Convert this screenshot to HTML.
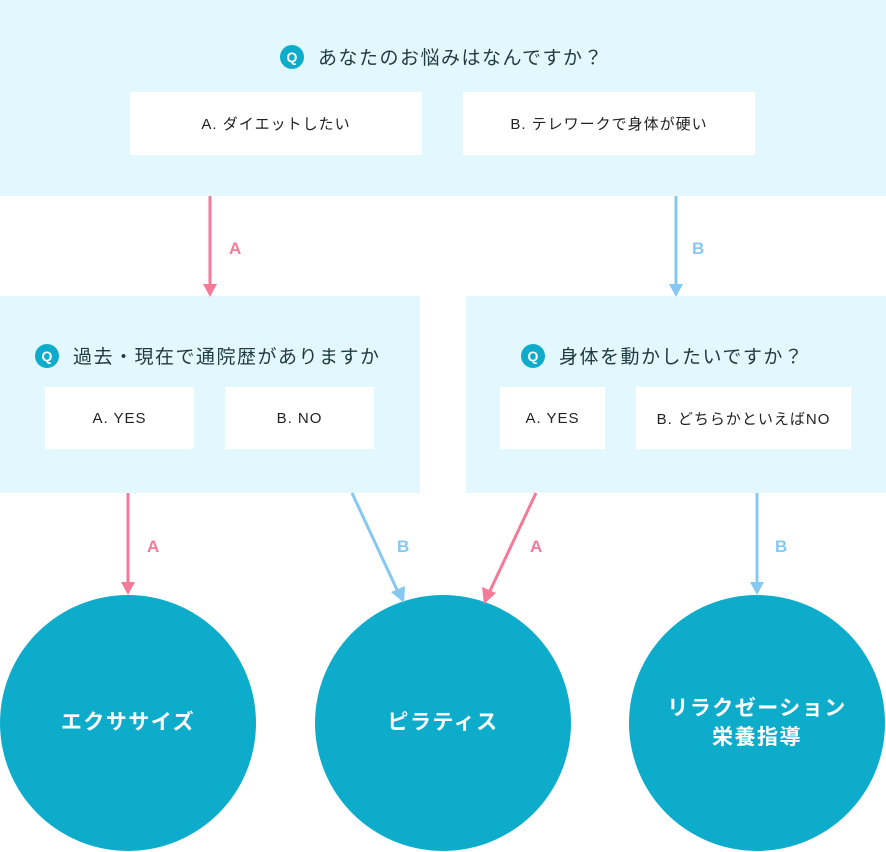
<!DOCTYPE html>
<html><head><meta charset="utf-8"><style>
body{margin:0;width:886px;height:852px;position:relative;background:#fff;font-family:"Liberation Sans","Noto Sans CJK JP",sans-serif;overflow:hidden}
.p{position:absolute;background:#e3f8fd}
.w{position:absolute;background:#fff;display:flex;align-items:center;justify-content:center;font-size:15px;color:#222;letter-spacing:1px}
.q{position:absolute;font-size:19px;color:#1f3a40;display:flex;align-items:center;letter-spacing:1.5px;white-space:nowrap}
.q b{display:inline-block;width:24px;height:24px;border-radius:50%;background:#0eaccb;color:#fff;font-size:14px;text-align:center;line-height:24px;margin-right:14px;letter-spacing:0}
.c{position:absolute;width:256px;height:256px;border-radius:50%;background:#0eaccb;color:#fff;font-weight:bold;font-size:21px;display:flex;align-items:center;justify-content:center;text-align:center;line-height:1.4;letter-spacing:1.5px}
</style></head><body>
<div class="p" style="left:0;top:0;width:886px;height:196px"></div>
<div class="p" style="left:0;top:296px;width:420px;height:197px"></div>
<div class="p" style="left:466px;top:296px;width:420px;height:197px"></div>
<div class="q" style="left:280px;top:43px"><b>Q</b>あなたのお悩みはなんですか？</div>
<div class="w" style="left:130px;top:92px;width:292px;height:63px">A. ダイエットしたい</div>
<div class="w" style="left:463px;top:92px;width:292px;height:63px">B. テレワークで身体が硬い</div>
<div class="q" style="left:35px;top:342px"><b>Q</b>過去・現在で通院歴がありますか</div>
<div class="w" style="left:45px;top:387px;width:149px;height:62px">A. YES</div>
<div class="w" style="left:225px;top:387px;width:149px;height:62px">B. NO</div>
<div class="q" style="left:521px;top:342px"><b>Q</b>身体を動かしたいですか？</div>
<div class="w" style="left:500px;top:387px;width:105px;height:62px">A. YES</div>
<div class="w" style="left:636px;top:387px;width:215px;height:62px">B. どちらかといえばNO</div>
<div class="c" style="left:0;top:595px">エクササイズ</div>
<div class="c" style="left:315px;top:595px">ピラティス</div>
<div class="c" style="left:629px;top:595px">リラクゼーション<br>栄養指導</div>
<svg style="position:absolute;left:0;top:0" width="886" height="852">
<g stroke-width="3" fill="none">
<line x1="210" y1="196" x2="210" y2="286" stroke="#f47a9a"/>
<line x1="676" y1="196" x2="676" y2="286" stroke="#85c9f2"/>
<line x1="128" y1="493" x2="128" y2="584" stroke="#f47a9a"/>
<line x1="352" y1="493" x2="398" y2="592" stroke="#85c9f2"/>
<line x1="536" y1="493" x2="489" y2="593" stroke="#f47a9a"/>
<line x1="757" y1="493" x2="757" y2="584" stroke="#85c9f2"/>
</g>
<polygon points="203,284 217,284 210,297" fill="#f47a9a"/>
<polygon points="669,284 683,284 676,297" fill="#85c9f2"/>
<polygon points="121,582 135,582 128,595" fill="#f47a9a"/>
<polygon points="750,582 764,582 757,595" fill="#85c9f2"/>
<polygon points="391,592 405,586 404,603" fill="#85c9f2"/>
<polygon points="482,587 496,593 484,604" fill="#f47a9a"/>
<g font-family="Liberation Sans" font-size="17" font-weight="bold">
<text x="229" y="254" fill="#f47a9a">A</text>
<text x="692" y="254" fill="#85c9f2">B</text>
<text x="147" y="552" fill="#f47a9a">A</text>
<text x="397" y="552" fill="#85c9f2">B</text>
<text x="530" y="552" fill="#f47a9a">A</text>
<text x="775" y="552" fill="#85c9f2">B</text>
</g>
</svg>
</body></html>
